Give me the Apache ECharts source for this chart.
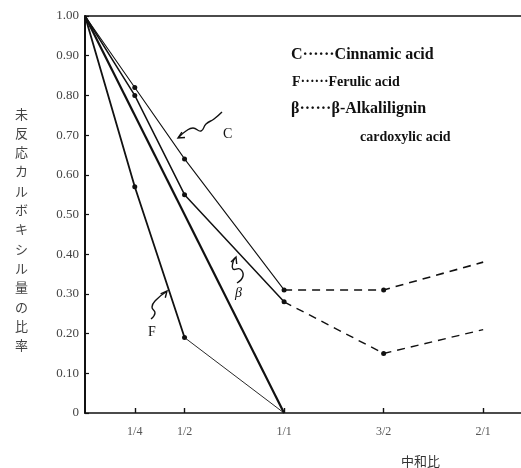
<!DOCTYPE html>
<html>
<head>
<meta charset="utf-8">
<script src="https://cdn.jsdelivr.net/npm/echarts@6/dist/echarts.min.js"></script>
<style>
html,body{margin:0;padding:0;background:#fff;}
#chart{width:521px;height:468px;}
</style>
</head>
<body>
<div id="chart"></div>
<script>
// ---- data ----
const xValues = [0, 0.25, 0.5, 1, 1.5, 2];
const cinnamic = [1.00, 0.82, 0.64, 0.31, 0.31, 0.38];
const alkali = [1.00, 0.80, 0.55, 0.28, 0.15, 0.21];
const ferulicX = [0, 0.25, 0.5, 1];
const ferulic = [1.00, 0.57, 0.19, 0];
const straightX = [0, 1];
const straight = [1.00, 0];
const xTickValues = [0.25, 0.5, 1, 1.5, 2];
const xTickLabels = ['1/4', '1/2', '1/1', '3/2', '2/1'];
const yTickValues = [0, 0.1, 0.2, 0.3, 0.4, 0.5, 0.6, 0.7, 0.8, 0.9, 1.0];
const yTickLabels = ['0', '0.10', '0.20', '0.30', '0.40', '0.50', '0.60', '0.70', '0.80', '0.90', '1.00'];
const legendLines = ['C\u00b7\u00b7\u00b7\u00b7\u00b7\u00b7Cinnamic acid', 'F\u00b7\u00b7\u00b7\u00b7\u00b7\u00b7Ferulic acid', '\u03b2\u00b7\u00b7\u00b7\u00b7\u00b7\u00b7\u03b2-Alkalilignin', 'cardoxylic acid'];
const yTitle = '未反応カルボキシル量の比率';
const xTitle = '中和比';

const serif = '"Liberation Serif", "DejaVu Serif", serif';

function pts(xs, ys, from, to, markFrom) {
  const out = [];
  for (let i = from; i <= to; i++) {
    out.push({ value: [xs[i], ys[i]], symbol: (i >= markFrom) ? 'circle' : 'none' });
  }
  return out;
}

function lineSeries(data, width, dashed, size) {
  return {
    type: 'line', xAxisIndex: 0, yAxisIndex: 0, data: data,
    symbolSize: size || 5, showSymbol: true, animation: false,
    lineStyle: { color: '#111', width: width, type: dashed ? [8, 6] : 'solid' },
    itemStyle: { color: '#111' },
    z: 3
  };
}

const series = [
  lineSeries(pts(xValues, cinnamic, 0, 3, 1), 1.1, false),
  lineSeries(pts(xValues, cinnamic, 3, 5, 4).map((d, i) => ({ value: d.value, symbol: i === 1 ? 'circle' : 'none' })), 1.6, true),
  lineSeries(pts(xValues, alkali, 0, 3, 1), 1.5, false),
  lineSeries(pts(xValues, alkali, 3, 5, 4).map((d, i) => ({ value: d.value, symbol: i === 1 ? 'circle' : 'none' })), 1.4, true),
  lineSeries(pts(straightX, straight, 0, 1, 9), 2.2, false),
  lineSeries(pts(ferulicX, ferulic, 0, 2, 1), 1.8, false),
  lineSeries(pts(ferulicX, ferulic, 2, 3, 9), 0.9, false)
];

function squiggle(points) {
  return { type: 'polyline', shape: { points: points, smooth: 0.5 }, style: { stroke: '#111', lineWidth: 1.4, fill: null }, z: 10 };
}

function arrowHead(tip, angleDeg) {
  const a = angleDeg * Math.PI / 180;
  const L = 7, w = 0.45;
  const p1 = [tip[0] - L * Math.cos(a - w), tip[1] - L * Math.sin(a - w)];
  const p2 = [tip[0] - L * Math.cos(a + w), tip[1] - L * Math.sin(a + w)];
  return { type: 'polyline', shape: { points: [p1, tip, p2] }, style: { stroke: '#111', lineWidth: 1.4, fill: null }, z: 10 };
}

const graphics = [];
// y-axis title (vertical)
graphics.push({ type: 'text', left: 15, top: 104, style: { text: yTitle.split('').join('\n'), font: '13px "Noto Sans CJK JP", sans-serif', fill: '#444', lineHeight: 19.3 }, z: 10 });
// x-axis title
graphics.push({ type: 'text', left: 401, top: 455, style: { text: xTitle, font: '13px "Noto Sans CJK JP", sans-serif', fill: '#333' }, z: 10 });
// legend block
graphics.push({ type: 'text', left: 291, top: 47, style: { text: legendLines[0], font: 'bold 16px ' + serif, fill: '#111' }, z: 10 });
graphics.push({ type: 'text', left: 292, top: 75, style: { text: legendLines[1], font: 'bold 14px ' + serif, fill: '#111' }, z: 10 });
graphics.push({ type: 'text', left: 291, top: 101, style: { text: legendLines[2], font: 'bold 16px ' + serif, fill: '#111' }, z: 10 });
graphics.push({ type: 'text', left: 360, top: 130, style: { text: legendLines[3], font: 'bold 14px ' + serif, fill: '#111' }, z: 10 });
// annotation labels
graphics.push({ type: 'text', left: 223, top: 127, style: { text: 'C', font: '14px ' + serif, fill: '#111' }, z: 10 });
graphics.push({ type: 'text', left: 235, top: 286, style: { text: '\u03b2', font: 'italic 14px ' + serif, fill: '#111' }, z: 10 });
graphics.push({ type: 'text', left: 148, top: 325, style: { text: 'F', font: '14px ' + serif, fill: '#111' }, z: 10 });
// squiggle arrows
graphics.push(squiggle([[222, 112], [214, 119], [206, 124], [201, 131], [193, 128], [186, 131], [179, 137]]));
graphics.push(arrowHead([178, 138], 150));
graphics.push(squiggle([[237, 283], [243, 276], [240, 269], [233, 269], [233, 262], [235, 258]]));
graphics.push(arrowHead([236, 257], -70));
graphics.push(squiggle([[151, 319], [155, 313], [152, 307], [156, 300], [166, 292]]));
graphics.push(arrowHead([167, 291], -50));

const chart = echarts.init(document.getElementById('chart'), null, { renderer: 'canvas' });
chart.setOption({
  animation: false,
  backgroundColor: '#fff',
  grid: { left: 85, right: 0, top: 16, bottom: 55 },
  xAxis: [
    {
      type: 'value', min: 0, max: 2.19, position: 'bottom',
      axisLine: { show: true, lineStyle: { color: '#111', width: 1.6 } },
      splitLine: { show: false },
      axisTick: { show: true, inside: true, length: 5, customValues: xTickValues, lineStyle: { color: '#111', width: 1.4 } },
      axisLabel: {
        customValues: xTickValues, margin: 13,
        formatter: v => { const i = xTickValues.findIndex(t => Math.abs(t - v) < 1e-6); return i >= 0 ? xTickLabels[i] : ''; },
        fontFamily: serif, fontSize: 12, color: '#555'
      }
    },
    {
      type: 'value', min: 0, max: 2.19, position: 'top',
      axisLine: { show: true, lineStyle: { color: '#111', width: 1.6 } },
      splitLine: { show: false }, axisTick: { show: false }, axisLabel: { show: false }
    }
  ],
  yAxis: {
    type: 'value', min: 0, max: 1, interval: 0.1,
    axisLine: { show: true, lineStyle: { color: '#111', width: 2 } },
    splitLine: { show: false },
    axisTick: { show: true, inside: true, length: 4, lineStyle: { color: '#111', width: 1.2 } },
    axisLabel: {
      margin: 6,
      formatter: v => { const i = yTickValues.findIndex(t => Math.abs(t - v) < 1e-6); return i >= 0 ? yTickLabels[i] : ''; },
      fontFamily: serif, fontSize: 13, color: '#444'
    }
  },
  series: series,
  graphic: { elements: graphics }
});
</script>
</body>
</html>
